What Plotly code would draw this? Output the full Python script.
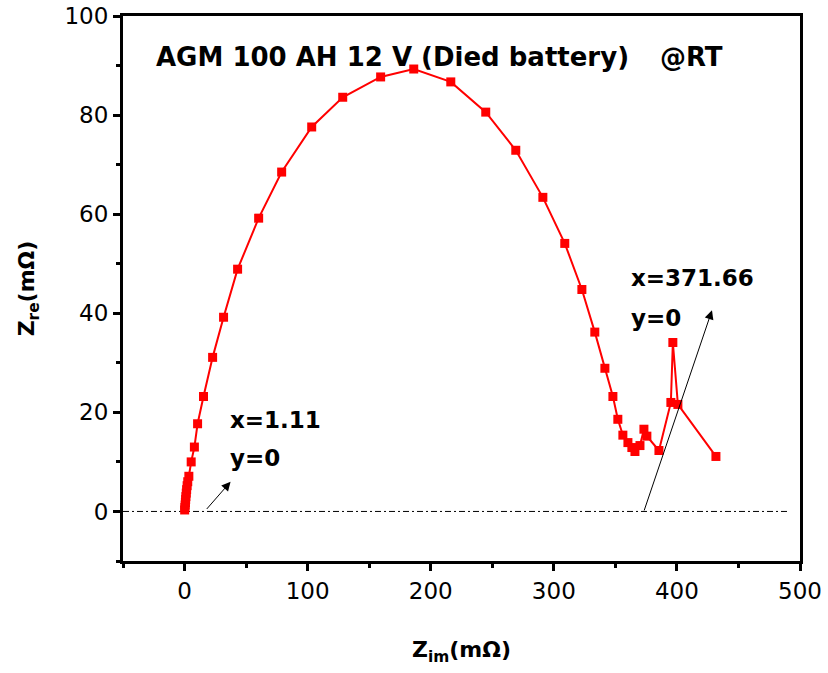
import plotly.graph_objects as go

# Impedance data (mΩ)
z_im = [0.1, 0.3, 0.5, 0.7, 0.9, 1.1, 1.4, 1.7, 2.1, 2.6, 3.5, 5.4, 8.0, 10.6,
        15.4, 22.8, 31.7, 43.1, 60.2, 78.9, 103.3, 128.5, 159.3, 186.2, 216.3,
        244.7, 269.1, 291.1, 308.9, 322.8, 333.3, 341.5, 348.0, 352.0, 356.1,
        360.2, 363.4, 365.9, 370.0, 373.2, 375.6, 385.4, 395.1, 396.7, 400.8, 431.7]
z_re = [0.3, 0.8, 1.3, 1.8, 2.4, 3.0, 3.7, 4.4, 5.2, 6.0, 7.1, 10.0, 13.0, 17.7,
        23.2, 31.1, 39.2, 48.9, 59.2, 68.5, 77.6, 83.6, 87.7, 89.3, 86.7,
        80.6, 72.9, 63.4, 54.1, 44.8, 36.2, 28.9, 23.2, 18.6, 15.4,
        13.9, 12.9, 12.1, 13.3, 16.6, 15.2, 12.3, 22.0, 34.1, 21.6, 11.1]

baseline_x = [-50, 490]
baseline_y = [0, 0]

title_text = "AGM 100 AH 12 V (Died battery)"
cond_text = "@RT"
ann1 = ["x=1.11", "y=0"]
ann2 = ["x=371.66", "y=0"]

fig = go.Figure()
fig.add_trace(go.Scatter(x=baseline_x, y=baseline_y, mode="lines",
                         line=dict(color="black", width=1, dash="6px,3px,2px,3px"),
                         showlegend=False, hoverinfo="skip"))
fig.add_trace(go.Scatter(x=z_im, y=z_re, mode="lines+markers",
                         line=dict(color="#ff0000", width=2),
                         marker=dict(symbol="square", size=9, color="#ff0000"),
                         showlegend=False))

bold = dict(family="DejaVu Sans", size=23, color="black", weight="bold")

fig.add_annotation(x=0.046, y=0.925, xref="paper", yref="paper", text=title_text,
                   showarrow=False, xanchor="left", yanchor="middle",
                   font=dict(family="DejaVu Sans", size=26, color="black", weight="bold"))
fig.add_annotation(x=0.79, y=0.925, xref="paper", yref="paper", text=cond_text,
                   showarrow=False, xanchor="left", yanchor="middle",
                   font=dict(family="DejaVu Sans", size=26, color="black", weight="bold"))

# annotation 1
fig.add_annotation(x=35.5, y=18.5, text=ann1[0], showarrow=False, xanchor="left",
                   yanchor="middle", font=bold)
fig.add_annotation(x=35.5, y=10.8, text=ann1[1], showarrow=False, xanchor="left",
                   yanchor="middle", font=bold)
fig.add_annotation(x=37.4, y=6.0, ax=17.0, ay=0.2, axref="x", ayref="y",
                   text="", showarrow=True, arrowhead=2, arrowsize=1.8,
                   arrowwidth=1, arrowcolor="black")
# annotation 2
fig.add_annotation(x=361, y=47.2, text=ann2[0], showarrow=False, xanchor="left",
                   yanchor="middle", font=bold)
fig.add_annotation(x=361, y=39.0, text=ann2[1], showarrow=False, xanchor="left",
                   yanchor="middle", font=bold)
fig.add_annotation(x=428.5, y=40.6, ax=373.0, ay=-0.1, axref="x", ayref="y",
                   text="", showarrow=True, arrowhead=2, arrowsize=1.8,
                   arrowwidth=1, arrowcolor="black")

axis_common = dict(showgrid=False, zeroline=False, showline=True, linecolor="black",
                   linewidth=3, mirror=True, ticks="outside", ticklen=7, tickwidth=3,
                   tickcolor="black", automargin=False,
                   tickfont=dict(family="DejaVu Sans", size=23, color="black"))

fig.update_xaxes(range=[-50, 500], dtick=100, tick0=0,
                 minor=dict(dtick=50, tick0=0, ticks="outside", ticklen=4, tickwidth=3,
                            tickcolor="black"),
                 title=dict(text="Z<sub>im</sub>(mΩ)", standoff=40,
                            font=dict(family="DejaVu Sans", size=22, color="black", weight="bold")),
                 **axis_common)
fig.update_yaxes(range=[-10, 100], dtick=20, tick0=0,
                 minor=dict(dtick=10, tick0=0, ticks="outside", ticklen=4, tickwidth=3,
                            tickcolor="black"),
                 title=dict(text="Z<sub>re</sub>(mΩ)", standoff=24,
                            font=dict(family="DejaVu Sans", size=22, color="black", weight="bold")),
                 **axis_common)

fig.update_layout(width=828, height=673, margin=dict(l=123, r=28, t=16, b=112),
                  plot_bgcolor="white", paper_bgcolor="white")

fig.write_html("out.html")
